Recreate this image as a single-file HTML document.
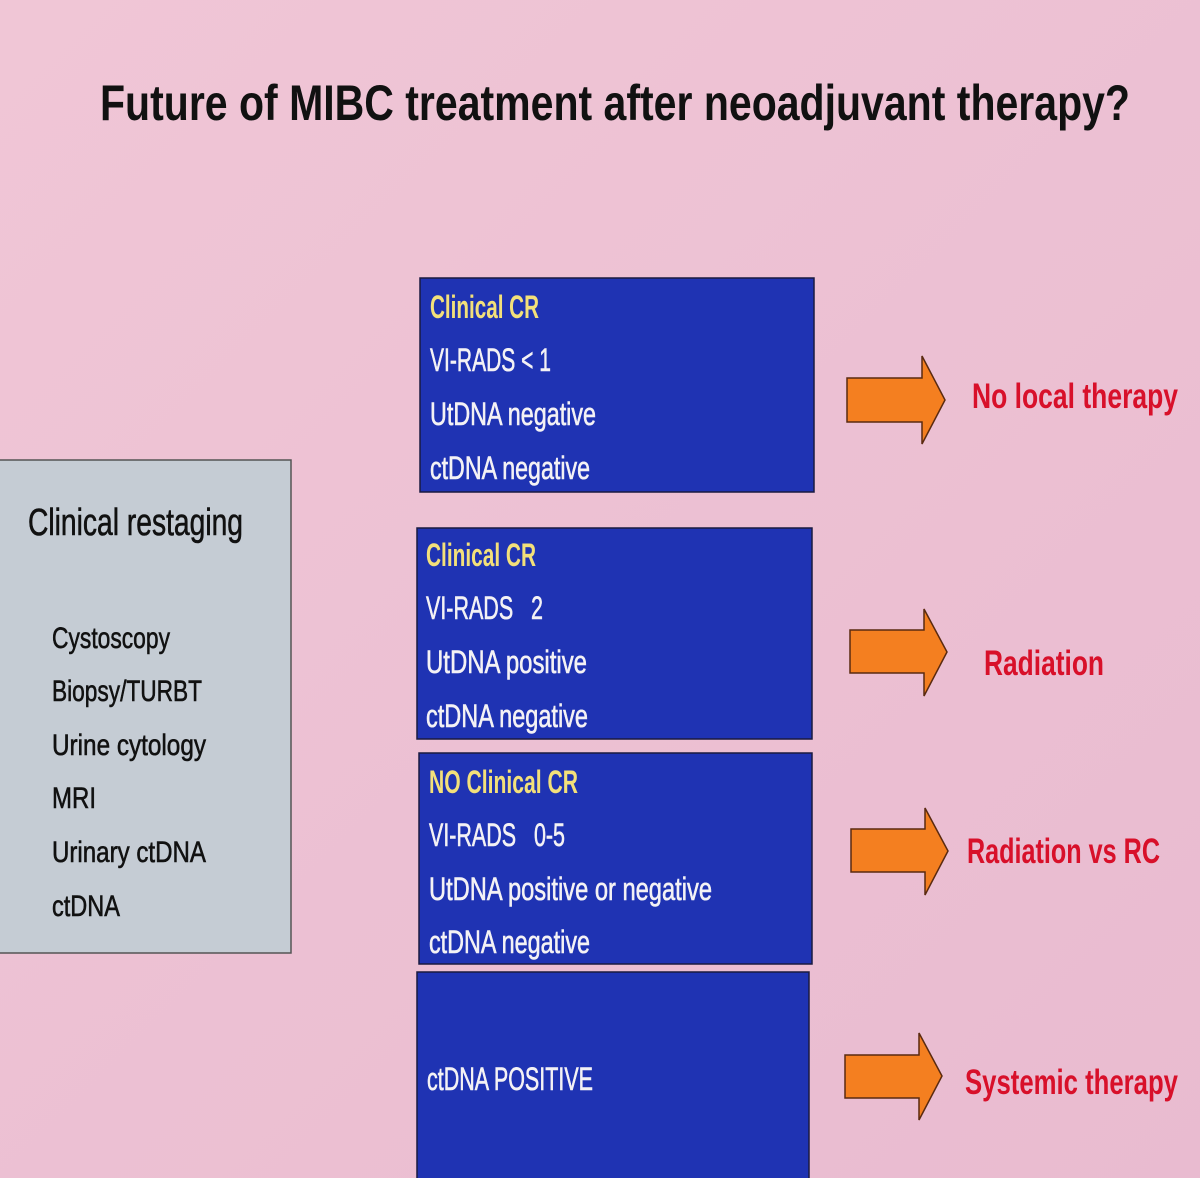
<!DOCTYPE html>
<html><head><meta charset="utf-8"><style>
html,body{margin:0;padding:0;background:#ecc0d2;}
svg{display:block}
</style></head><body>
<svg width="1200" height="1178" viewBox="0 0 1200 1178" xmlns="http://www.w3.org/2000/svg" font-family="'Liberation Sans Narrow','Liberation Sans',sans-serif">
<defs>
<linearGradient id="bg" x1="0" y1="0" x2="1" y2="1">
<stop offset="0" stop-color="#f0c6d6"/><stop offset="1" stop-color="#e9bbd0"/>
</linearGradient>
</defs>
<rect width="1200" height="1178" fill="url(#bg)"/>
<text x="100" y="120" font-size="50" font-weight="bold" fill="#111" textLength="1030" lengthAdjust="spacingAndGlyphs">Future of MIBC treatment after neoadjuvant therapy?</text>

<rect x="-2" y="460" width="293" height="493" fill="#c5ccd4" stroke="#555" stroke-width="1.5"/>
<g fill="#111" stroke="#111" stroke-width="0.6">
<text x="28" y="535" font-size="38" textLength="215" lengthAdjust="spacingAndGlyphs">Clinical restaging</text>
<g font-size="30">
<text x="52" y="648" textLength="118" lengthAdjust="spacingAndGlyphs">Cystoscopy</text>
<text x="52" y="701" textLength="150" lengthAdjust="spacingAndGlyphs">Biopsy/TURBT</text>
<text x="52" y="755" textLength="154" lengthAdjust="spacingAndGlyphs">Urine cytology</text>
<text x="52" y="808" textLength="44" lengthAdjust="spacingAndGlyphs">MRI</text>
<text x="52" y="862" textLength="154" lengthAdjust="spacingAndGlyphs">Urinary ctDNA</text>
<text x="52" y="916" textLength="68" lengthAdjust="spacingAndGlyphs">ctDNA</text>
</g></g>

<g fill="#1f33b3" stroke="#1a1a40" stroke-width="1.5">
<rect x="420" y="278" width="394" height="214"/>
<rect x="417" y="528" width="395" height="211"/>
<rect x="419" y="753" width="393" height="211"/>
<rect x="417" y="972" width="392" height="210"/>
</g>
<g font-size="32" fill="#f4f2f5" stroke="#f4f2f5" stroke-width="0.6">
<g fill="#f3e07a" stroke="#f3e07a" font-weight="bold" stroke-width="0">
<text x="430" y="318" textLength="109" lengthAdjust="spacingAndGlyphs">Clinical CR</text>
<text x="426" y="566" textLength="110" lengthAdjust="spacingAndGlyphs">Clinical CR</text>
<text x="429" y="793" textLength="149" lengthAdjust="spacingAndGlyphs">NO Clinical CR</text>
</g>
<text x="430" y="371" textLength="121" lengthAdjust="spacingAndGlyphs">VI-RADS &lt; 1</text>
<text x="430" y="425" textLength="166" lengthAdjust="spacingAndGlyphs">UtDNA negative</text>
<text x="430" y="479" textLength="160" lengthAdjust="spacingAndGlyphs">ctDNA negative</text>
<text x="426" y="619" textLength="117" lengthAdjust="spacingAndGlyphs" xml:space="preserve">VI-RADS   2</text>
<text x="426" y="673" textLength="161" lengthAdjust="spacingAndGlyphs">UtDNA positive</text>
<text x="426" y="727" textLength="162" lengthAdjust="spacingAndGlyphs">ctDNA negative</text>
<text x="429" y="846" textLength="136" lengthAdjust="spacingAndGlyphs" xml:space="preserve">VI-RADS   0-5</text>
<text x="429" y="900" textLength="283" lengthAdjust="spacingAndGlyphs">UtDNA positive or negative</text>
<text x="429" y="953" textLength="161" lengthAdjust="spacingAndGlyphs">ctDNA negative</text>
<text x="427" y="1090" textLength="166" lengthAdjust="spacingAndGlyphs">ctDNA POSITIVE</text>
</g>

<g fill="#f47f20" stroke="#5a2a10" stroke-width="1.5">
<polygon points="847,378 922,378 922,356 945,400 922,444 922,422 847,422"/>
<polygon points="850,630 924,630 924,609 947,652 924,696 924,673 850,673"/>
<polygon points="851,829 925,829 925,808 948,851 925,895 925,872 851,872"/>
<polygon points="845,1055 919,1055 919,1033 942,1076 919,1120 919,1098 845,1098"/>
</g>
<g fill="#d8102a" font-size="35" font-weight="bold">
<text x="972" y="408" textLength="206" lengthAdjust="spacingAndGlyphs">No local therapy</text>
<text x="984" y="675" textLength="120" lengthAdjust="spacingAndGlyphs">Radiation</text>
<text x="967" y="863" textLength="193" lengthAdjust="spacingAndGlyphs">Radiation vs RC</text>
<text x="965" y="1094" textLength="213" lengthAdjust="spacingAndGlyphs">Systemic therapy</text>
</g>
</svg>
</body></html>
